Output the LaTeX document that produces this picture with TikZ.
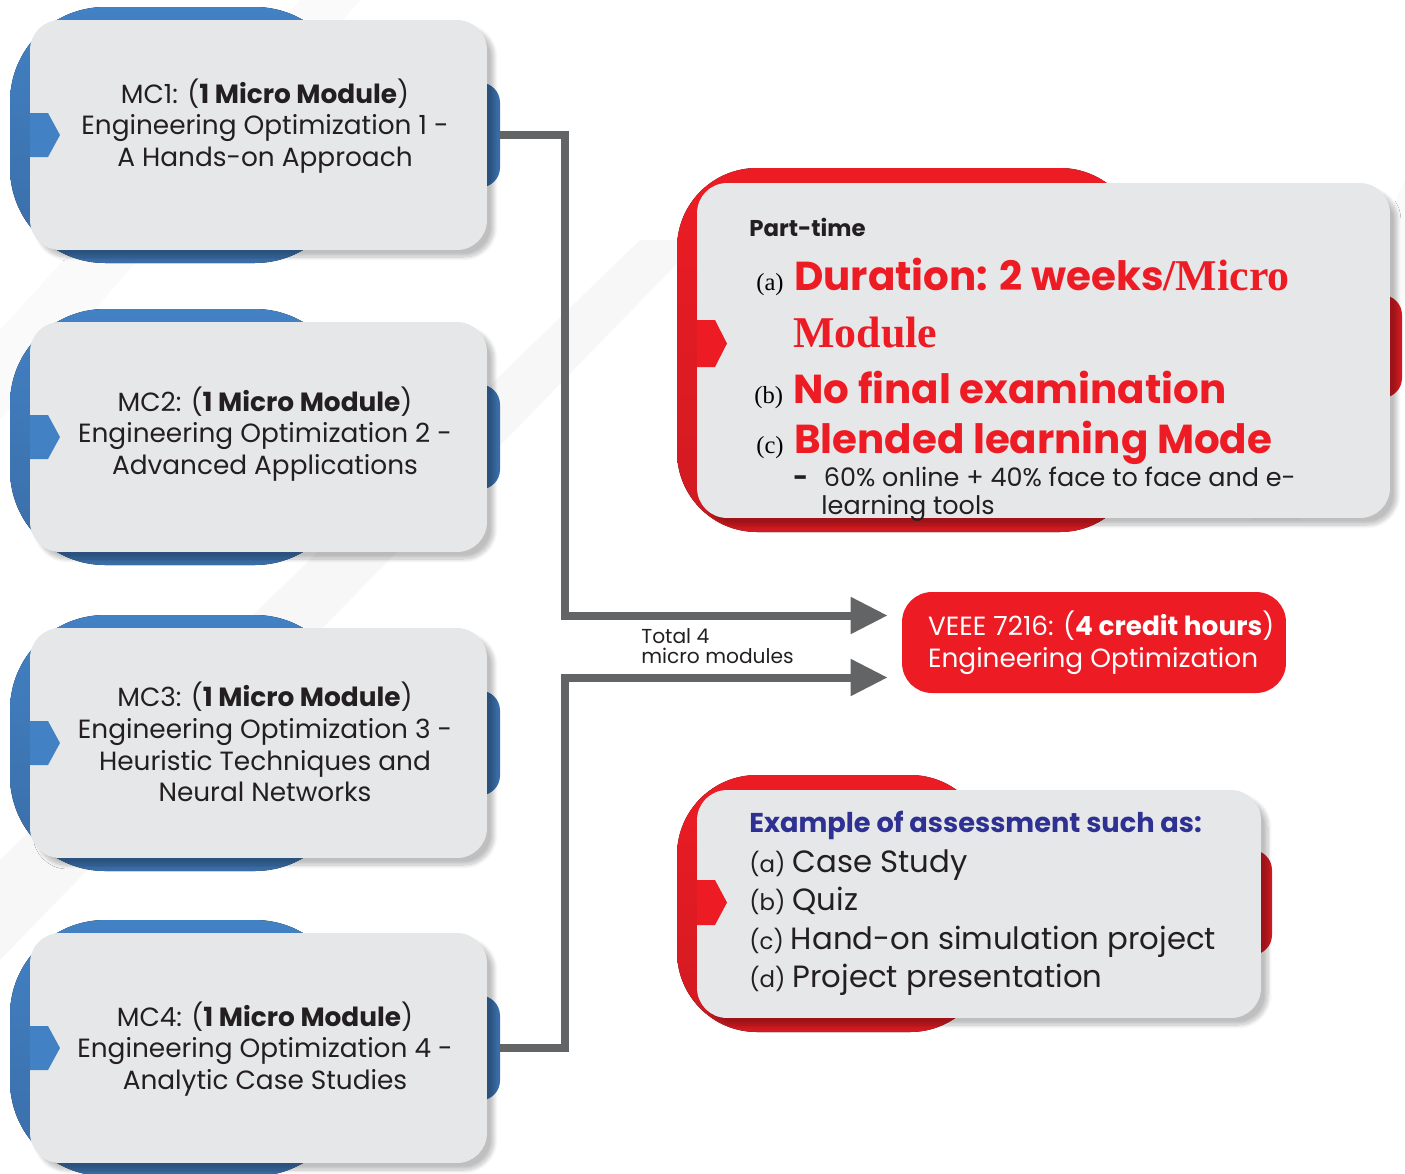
\documentclass[tikz,border=0pt]{standalone}
\usepackage{fontspec}
\setmainfont{Poppins}
\newfontfamily\timesfont{Liberation Serif}
\usetikzlibrary{arrows.meta,calc,shadows.blur}
\definecolor{mcblue}{HTML}{4281C4}
\definecolor{mcbluedark}{HTML}{3A6DA7}
\definecolor{ptred}{HTML}{ED1C24}
\definecolor{ptreddark}{HTML}{D11A21}
\definecolor{boxgray}{HTML}{E6E7E8}
\definecolor{linegray}{HTML}{636466}
\definecolor{asblue}{HTML}{2E3192}
\definecolor{txt}{HTML}{231F20}
\tikzset{
  card/.style={fill=boxgray, rounded corners=0.6cm,
    blur shadow={shadow xshift=4pt, shadow yshift=-4pt, shadow blur steps=10, shadow opacity=25}},
  blueblob/.style={top color=mcblue, bottom color=mcbluedark},
  redblob/.style={top color=ptred, bottom color=ptreddark},
  tab/.style={rounded corners=0.4cm, minimum width=1.2cm, minimum height=2.1cm, inner sep=0},
  conn/.style={draw=linegray, line width=0.16cm, -{Triangle[length=0.74cm,width=0.7cm]}},
}
\begin{document}
\begin{tikzpicture}[x=0.02cm,y=-0.02cm]
\useasboundingbox (0,0) rectangle (1405,1173);
% faint background bands
\fill[black!2] (0,330) -- (300,0) -- (360,0) -- (0,420) -- cycle;
\fill[black!3] (0,860) -- (640,240) -- (700,240) -- (0,960) -- cycle;
\fill[black!2] (1405,180) -- (1405,300) -- (1300,520) -- (1250,520) -- cycle;
% the four micro modules
\foreach \i/\t/\dy/\txt in {
  1/20/-9/{MC1: (\textbf{1 Micro Module})\\Engineering Optimization 1 -\\A Hands-on Approach},
  2/322/-3/{MC2: (\textbf{1 Micro Module})\\Engineering Optimization 2 -\\Advanced Applications},
  3/628/-1/{MC3: (\textbf{1 Micro Module})\\Engineering Optimization 3 -\\Heuristic Techniques and\\Neural Networks},
  4/933/1/{MC4: (\textbf{1 Micro Module})\\Engineering Optimization 4 -\\Analytic Case Studies}}
{
  \fill[blueblob, rounded corners=1.9cm] (10,\t-13) rectangle (350,\t+243);
  \node[tab, fill=mcbluedark] (tab\i) at (470,\t+115) {};
  \node[card, minimum width=9.14cm, minimum height=4.6cm] (mc\i) at (258.5,\t+115) {};
  \node[align=center, text=txt, font=\fontsize{15}{18}\selectfont] (mctext\i) at (265,\t+115+\dy) {\txt};
  % notch on the left edge
  \fill[mcblue] (30,\t+93) -- (48,\t+93) -- (60,\t+115) -- (48,\t+137) -- (30,\t+137) -- cycle;
}
% part-time box
\fill[redblob, rounded corners=1.6cm] (677,168) rectangle (1140,532);
\node[tab, fill=ptreddark, minimum height=2.06cm] (tabpt) at (1372,346.5) {};
\node[card, minimum width=13.86cm, minimum height=6.7cm] (pt) at (1043.5,350.5) {};
\fill[ptred] (697,320) -- (715,320) -- (727,343.5) -- (715,367) -- (697,367) -- cycle;
\node[anchor=base west, inner sep=0, font=\bfseries\fontsize{13}{16}\selectfont, text=txt] (parttime) at (749,236) {Part-time};
\node[anchor=base west, inner sep=0] (pta) at (756,290) {{\timesfont\fontsize{14}{16}\selectfont(a)}\hspace{6pt}\textcolor{ptred}{\bfseries\fontsize{23}{28}\selectfont Duration: 2 weeks{\timesfont\fontsize{25}{28}\selectfont/Micro}}};
\node[anchor=base west, inner sep=0, text=ptred, font=\timesfont\bfseries\fontsize{25}{28}\selectfont] (ptmod) at (793,347) {Module};
\node[anchor=base west, inner sep=0] (ptb) at (754,403) {{\timesfont\fontsize{14}{16}\selectfont(b)}\hspace{6pt}\textcolor{ptred}{\bfseries\fontsize{23}{28}\selectfont No final examination}};
\node[anchor=base west, inner sep=0] (ptc) at (756,453) {{\timesfont\fontsize{14}{16}\selectfont(c)}\hspace{6pt}\textcolor{ptred}{\bfseries\fontsize{23}{28}\selectfont Blended learning Mode}};
\node[anchor=base west, inner sep=0, text=txt, font=\fontsize{14.5}{15.5}\selectfont, align=left] (ptd) at (793,514) {\textbf{-}\hspace{9pt}60\% online + 40\% face to face and e-\\\hspace{16pt}learning tools};
% credit hours box
\node[fill=ptred, rounded corners=0.6cm, minimum width=7.68cm, minimum height=2.02cm] (veee) at (1094,642.5) {};
\node[anchor=west, inner sep=0, align=left, text=white, font=\fontsize{15}{18}\selectfont] (veeetext) at ($(veee.west)+(26,0)$)
  {VEEE 7216: (\textbf{4 credit hours})\\Engineering Optimization};
% assessment box
\fill[redblob, rounded corners=1.6cm] (677,775) rectangle (990,1032);
\node[tab, fill=ptreddark] (tabas) at (1242,902.5) {};
\node[card, minimum width=11.28cm, minimum height=4.56cm] (assess) at (979,904) {};
\fill[ptred] (697,880) -- (715,880) -- (727,902.5) -- (715,925) -- (697,925) -- cycle;
\node[anchor=base west, inner sep=0, text=asblue, font=\bfseries\fontsize{15.5}{18}\selectfont] (ashead) at (749,832) {Example of assessment such as:};
\foreach \k/\lab/\yy in {1/{Case Study}/872, 2/Quiz/910, 3/{Hand-on simulation project}/949, 4/{Project presentation}/987}
{
  \node[anchor=base west, inner sep=0, text=txt] (as\k) at (749,\yy)
    {{\fontsize{13}{15}\selectfont(\ifcase\k\or a\or b\or c\or d\fi)}\hspace{4pt}{\fontsize{17.5}{20}\selectfont\lab}};
}
% connectors into the credit box
\draw[conn] (tab1.east) -- ++(65,0) |- ($(veee.west)+(-14,-27)$);
\draw[conn] (tab4.east) -- ++(65,0) |- ($(veee.west)+(-14,35)$);
\node[anchor=west, align=left, inner sep=0, text=txt, font=\fontsize{11.5}{11.5}\selectfont] (total) at (641,646) {Total 4\\micro modules};
\end{tikzpicture}
\end{document}
